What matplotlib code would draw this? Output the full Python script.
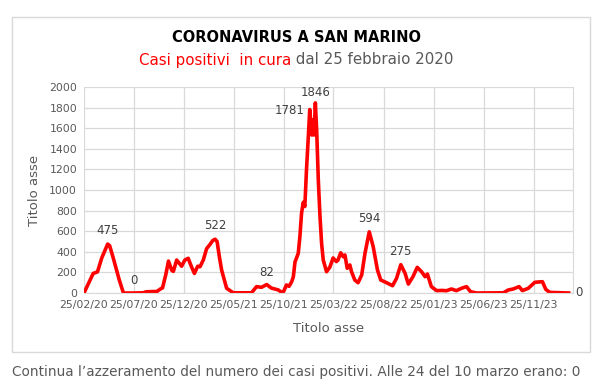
import matplotlib.pyplot as plt
import matplotlib.dates as mdates
import pandas as pd
from matplotlib.patches import Rectangle

# Casi positivi in cura a San Marino
dates = [
    "2020-02-25", "2020-03-24", "2020-04-06", "2020-04-19", "2020-05-07", "2020-05-13",
    "2020-05-24", "2020-06-11", "2020-06-24", "2020-07-25", "2020-08-23", "2020-09-02",
    "2020-10-04", "2020-10-13", "2020-10-21", "2020-10-31", "2020-11-08", "2020-11-18",
    "2020-11-23", "2020-12-03", "2020-12-18", "2020-12-28", "2021-01-07", "2021-01-17",
    "2021-01-26", "2021-02-05", "2021-02-12", "2021-02-22", "2021-03-04", "2021-03-14",
    "2021-03-23", "2021-03-30", "2021-04-05", "2021-04-12", "2021-04-19", "2021-05-04",
    "2021-05-24", "2021-07-19", "2021-08-03", "2021-08-18", "2021-09-03", "2021-09-17",
    "2021-10-08", "2021-10-17", "2021-10-23", "2021-11-02", "2021-11-10", "2021-11-18",
    "2021-11-23", "2021-11-28", "2021-12-08", "2021-12-13", "2021-12-18", "2021-12-23",
    "2021-12-28", "2022-01-02", "2022-01-07", "2022-01-12", "2022-01-18", "2022-01-22",
    "2022-01-25", "2022-01-29", "2022-02-02", "2022-02-07", "2022-02-12", "2022-02-17",
    "2022-02-22", "2022-03-04", "2022-03-14", "2022-03-24", "2022-04-03", "2022-04-08",
    "2022-04-16", "2022-04-24", "2022-04-29", "2022-05-06", "2022-05-14", "2022-05-19",
    "2022-05-29", "2022-06-08", "2022-06-19", "2022-06-29", "2022-07-12", "2022-07-24",
    "2022-08-06", "2022-08-16", "2022-08-31", "2022-09-21", "2022-10-03", "2022-10-16",
    "2022-10-29", "2022-11-08", "2022-11-22", "2022-12-05", "2022-12-18", "2022-12-29",
    "2023-01-05", "2023-01-17", "2023-02-02", "2023-02-17", "2023-03-04", "2023-03-19",
    "2023-04-03", "2023-04-19", "2023-05-04", "2023-05-16", "2023-06-03", "2023-08-24",
    "2023-09-08", "2023-09-23", "2023-10-11", "2023-10-21", "2023-11-08", "2023-11-28",
    "2023-12-21", "2023-12-31", "2024-01-12", "2024-03-10",
]
cases = [
    0, 190, 205, 340, 475, 460,
    340, 130, 0, 0, 2, 12,
    15, 36, 50, 180, 310, 220,
    210, 320, 260, 320, 337, 255,
    190, 260, 255, 320, 430, 470,
    510, 522, 500, 350, 220, 46,
    2, 2, 62, 55, 82, 48,
    30, 10, 5, 78, 65, 110,
    158, 300, 385, 550, 774, 880,
    840, 1194, 1485, 1781, 1534, 1680,
    1534, 1846, 1583, 1097, 750, 482,
    320, 207, 250, 340, 305, 320,
    390, 352, 369, 240, 272, 207,
    126, 100, 175, 385, 594, 450,
    223, 126, 104, 71, 142, 275,
    191, 87, 158, 249, 207, 158,
    184, 62, 23, 25, 22, 39,
    23, 46, 62, 13, 0, 2,
    29, 39, 62, 23, 46, 104,
    110, 36, 6, 0,
]

# etichette dati: (data, testo, spostamento in punti, allineamento)
labels = [
    ("2020-05-07", "475", (0, 5), "center"),
    ("2020-07-25", "0", (0, 4), "center"),
    ("2021-03-30", "522", (0, 5), "center"),
    ("2021-09-03", "82", (0, 4), "center"),
    ("2022-01-12", "1781", (-4, -1), "right"),
    ("2022-01-29", "1846", (0, 3), "center"),
    ("2022-07-12", "594", (0, 5), "center"),
    ("2022-10-16", "275", (0, 5), "center"),
    ("2024-03-10", "0", (5, 0), "left"),
]

tick_dates = pd.date_range("2020-02-01", periods=10, freq="5MS") + pd.Timedelta(days=24)

x = pd.to_datetime(dates)
gray = "#595959"

fig = plt.figure(figsize=(5.93, 3.87), dpi=100)
ax = fig.add_axes([84 / 593, 1 - 293 / 387, (573 - 84) / 593, (293 - 87) / 387])

ax.plot(x, cases, color="#ff0000", linewidth=2.6, solid_joinstyle="round")

for d, txt, off, ha in labels:
    val = cases[dates.index(d)]
    ax.annotate(txt, (pd.Timestamp(d), val), xytext=off, textcoords="offset points",
                ha=ha, va="bottom" if ha == "center" else "center",
                fontsize=8.5, color="#404040")

ax.set_xlim(pd.Timestamp("2020-02-25"), pd.Timestamp("2024-03-23"))
ax.set_ylim(0, 2000)
ax.set_yticks(range(0, 2001, 200))
ax.set_xticks(tick_dates)
ax.xaxis.set_major_formatter(mdates.DateFormatter("%d/%m/%y"))
ax.grid(True, color="#d9d9d9", linewidth=0.9)
ax.set_axisbelow(True)
ax.tick_params(length=0, colors=gray, labelsize=7.8, pad=5)
for s in ["top", "left"]:
    ax.spines[s].set_visible(False)
ax.spines["right"].set_color("#d9d9d9")
ax.spines["bottom"].set_color("#d9d9d9")

ax.set_xlabel("Titolo asse", color=gray, fontsize=9.5, labelpad=9)
ax.set_ylabel("Titolo asse", color=gray, fontsize=9.5, labelpad=6)

fig.patches.append(Rectangle((12 / 593, 1 - 352 / 387), 578 / 593, 335 / 387,
                             transform=fig.transFigure, fill=False,
                             edgecolor="#d9d9d9", linewidth=1))

fig.text(0.5, 1 - 37 / 387, "CORONAVIRUS A SAN MARINO", ha="center", va="center",
         fontsize=10.5, fontweight="bold", color="black")

# sottotitolo in due colori, centrato insieme
t1 = fig.text(0.5, 1 - 60 / 387, "Casi positivi  in cura", ha="left", va="center",
              fontsize=10.8, color="#ff0000")
t2 = fig.text(0.5, 1 - 60 / 387, " dal 25 febbraio 2020", ha="left", va="center",
              fontsize=10.8, color=gray)
fig.canvas.draw()
w1 = t1.get_window_extent().width / fig.bbox.width
w2 = t2.get_window_extent().width / fig.bbox.width
start = 0.5 - (w1 + w2) / 2
t1.set_x(start)
t2.set_x(start + w1)

fig.text(0.5, 1 - 372 / 387,
         "Continua l’azzeramento del numero dei casi positivi. Alle 24 del 10 marzo erano: 0",
         ha="center", va="center", fontsize=9.8, color=gray)

fig.savefig("out.png", dpi=100)
